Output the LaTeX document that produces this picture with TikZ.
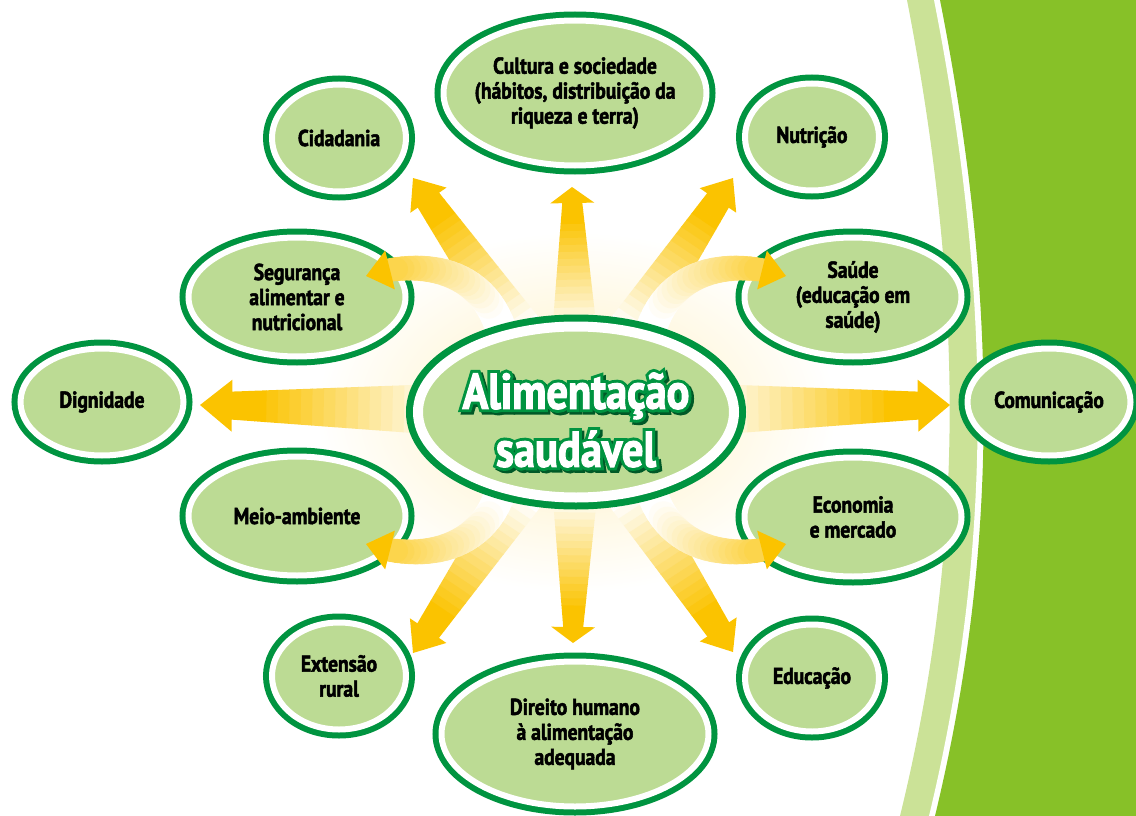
\documentclass[tikz,border=0pt]{standalone}
\usepackage{fontspec}
\setmainfont[FakeStretch=0.86]{PT Sans}
\newfontfamily\tagfont[FakeStretch=0.85, BoldFeatures={FakeBold=2.2}]{PT Sans}
\newfontfamily\rimfont[FakeStretch=0.85, BoldFeatures={FakeBold=14}]{PT Sans}
\usetikzlibrary{shapes}
\usetikzlibrary{calc}

\definecolor{dkgreen}{RGB}{0,148,64}
\definecolor{leaf}{RGB}{188,219,148}
\definecolor{pale}{RGB}{203,226,151}
\definecolor{lime}{RGB}{135,193,40}
\definecolor{sunyel}{RGB}{251,195,0}

% straight ray from the sun to a tip: #2 base half width, #3 half width at head, #4 head length, #5 head half width
\newcommand\sunray[5]{%
  \path let \p1=($(#1)-(sun)$) in \pgfextra{%
    \pgfmathsetmacro\rayang{atan2(\y1,\x1)}\pgfmathsetmacro\raylen{veclen(\x1,\y1)}%
    \global\let\rayang\rayang\global\let\raylen\raylen};
  \begin{scope}[shift={(sun)}, rotate=\rayang, x=1pt, y=1pt]
    \pgfmathsetmacro\rayend{\raylen-#4}
    \foreach \k [evaluate=\k as \ra using \k*\rayend/30,
                 evaluate=\k as \rb using (\k+1)*\rayend/30+0.6,
                 evaluate=\k as \wa using #2+(#3-#2)*\k/30,
                 evaluate=\k as \wb using #2+(#3-#2)*(\k+1)/30,
                 evaluate=\k as \pc using {int(max(0,min(100,(\k-11)*100/16)))}] in {0,...,29}
      \fill[sunyel!\pc!white] (\ra,-\wa) -- (\rb,-\wb) -- (\rb,\wb) -- (\ra,\wa) -- cycle;
    \fill[sunyel] (\rayend,-#5) -- (\raylen,0) -- (\rayend,#5) -- cycle;
  \end{scope}
}
% bent ray: start, two controls, end of band, tip
\newcommand\bendray[5]{%
  \path #1 .. controls #2 and #3 .. #4
    \foreach \k [evaluate=\k as \t using \k/24] in {0,...,24} {coordinate[pos=\t] (bp-\k)};
  \foreach \k [evaluate=\k as \pc using {int(max(0,min(70,(\k-6)*70/18)))},
               evaluate=\k as \w using 32-0.35*\k, remember=\k as \j (initially 0)] in {1,...,24}
    \draw[line width={\w pt}, draw=sunyel!\pc!white, line cap=round] (bp-\j) -- (bp-\k);
  \fill[sunyel] ($#4!20pt!90:#5$) -- #5 -- ($#4!20pt!-90:#5$) -- cycle;
}

\begin{document}
\begin{tikzpicture}[x=1pt,y=-1pt]
\tikzstyle{topic}=[ellipse, fill=leaf, draw=white, line width=6pt, preaction={draw=dkgreen, line width=18pt},
  inner sep=-10pt, align=center, font=\tagfont\bfseries\fontsize{23}{25}\selectfont]
\tikzstyle{hubnode}=[ellipse, fill=leaf, draw=white, line width=10pt, preaction={draw=dkgreen, line width=24pt}]
\tikzstyle{motto}=[align=center, inner sep=0pt, font=\tagfont\bfseries\fontsize{50}{58}\selectfont]
\tikzstyle{mottorim}=[motto, font=\rimfont\bfseries\fontsize{50}{58}\selectfont]
\useasboundingbox (0,0) rectangle (1136,816);
\clip (0,0) rectangle (1136,816);

% green band on the right
\fill[pale] (907,0) .. controls (965,300) and (965,550) .. (900,816) -- (1136,816) -- (1136,0) -- cycle;
\fill[white] (934,0) .. controls (993,300) and (993,550) .. (929,816) -- (1136,816) -- (1136,0) -- cycle;
\fill[lime] (940,0) .. controls (999,300) and (999,550) .. (935,816) -- (1136,816) -- (1136,0) -- cycle;

\coordinate (sun) at (576,412);
\shade[inner color=sunyel!25, outer color=white] (sun) ellipse [x radius=260, y radius=180];

% tips of the rays
\coordinate (tip-cul) at (572,187);
\coordinate (tip-cid) at (413,178);
\coordinate (tip-nut) at (733,178);
\coordinate (tip-dig) at (200,405);
\coordinate (tip-com) at (950,405);
\coordinate (tip-ext) at (413,653);
\coordinate (tip-dir) at (573,643);
\coordinate (tip-edu) at (733,652);
\coordinate (tip-seg) at (366,276);
\coordinate (tip-sau) at (786,276);
\coordinate (tip-meio) at (366,544);
\coordinate (tip-eco) at (786,544);

\sunray{tip-cul}{30}{10}{16}{22}
\sunray{tip-dir}{30}{10}{16}{22}
\sunray{tip-cid}{30}{13}{27}{22}
\sunray{tip-nut}{30}{13}{27}{22}
\sunray{tip-ext}{30}{13}{27}{22}
\sunray{tip-edu}{30}{13}{27}{22}
\sunray{tip-dig}{33}{14}{32}{26}
\sunray{tip-com}{33}{14}{32}{26}

\node[topic, minimum width=263pt, minimum height=145pt] (cul) at (575,93) {Cultura e sociedade\\(hábitos, distribuição da\\riqueza e terra)};
\node[topic, minimum width=134pt, minimum height=107pt] (cid) at (339,138) {Cidadania};
\node[topic, minimum width=134pt, minimum height=107pt] (nut) at (812,137) {Nutrição};
\node[topic, minimum width=217pt, minimum height=119pt] (seg) at (297,297) {Segurança\\alimentar e\\nutricional};
\node[topic, minimum width=217pt, minimum height=119pt] (sau) at (853,297) {Saúde\\(educação em\\saúde)};
\node[topic, minimum width=163pt, minimum height=107pt] (dig) at (102,402) {Dignidade};
\node[topic, minimum width=163pt, minimum height=107pt] (com) at (1049,402) {Comunicação};
\node[topic, minimum width=217pt, minimum height=119pt] (meio) at (297,516) {Meio-ambiente};
\node[topic, minimum width=217pt, minimum height=119pt] (eco) at (853,517) {Economia\\e mercado};
\node[topic, minimum width=134pt, minimum height=107pt] (ext) at (339,676) {Extensão\\rural};
\node[topic, minimum width=134pt, minimum height=107pt] (edu) at (812,678) {Educação};
\node[topic, minimum width=267pt, minimum height=145pt] (dir) at (575,734) {Direito humano\\à alimentação\\adequada};

\bendray{(505,345)}{(492,278)}{(440,262)}{(390,270)}{(tip-seg)}
\bendray{(647,345)}{(660,278)}{(712,262)}{(762,270)}{(tip-sau)}
\bendray{(505,475)}{(492,542)}{(440,558)}{(390,550)}{(tip-meio)}
\bendray{(647,475)}{(660,542)}{(712,558)}{(762,550)}{(tip-eco)}

\node[hubnode, minimum width=316pt, minimum height=171pt] (hub) at (sun) {};
\node[mottorim, text=dkgreen!60!black] (shadow) at ($(sun)+(2.5,10.5)$) {Alimentação\\saudável};
\node[mottorim, text=dkgreen] (rim) at ($(sun)+(0,8)$) {Alimentação\\saudável};
\node[motto, text=white] (title) at ($(sun)+(0,8)$) {Alimentação\\saudável};
\end{tikzpicture}
\end{document}
